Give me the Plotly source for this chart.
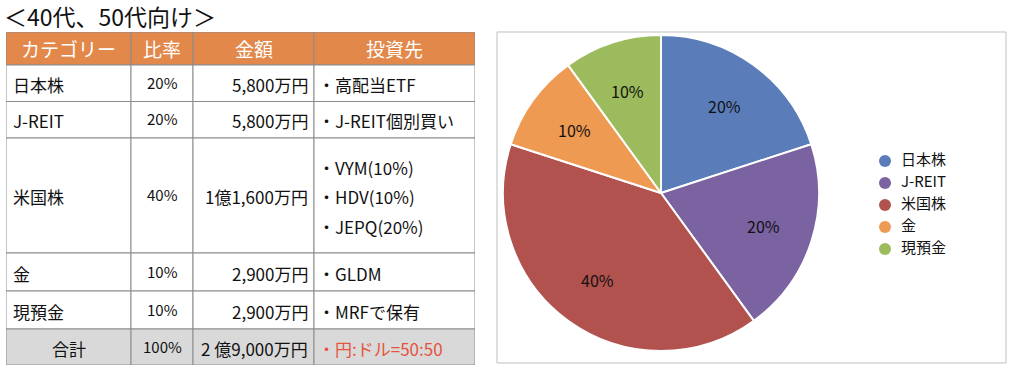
import math
import plotly.graph_objects as go

# ---------------- data ----------------
title_text = "＜40代、50代向け＞"
headers = ["カテゴリー", "比率", "金額", "投資先"]
categories = ["日本株", "J-REIT", "米国株", "金", "現預金"]
ratios = ["20%", "20%", "40%", "10%", "10%"]
amounts = ["5,800万円", "5,800万円", "1億1,600万円", "2,900万円", "2,900万円"]
investments = [["・高配当ETF"], ["・J-REIT個別買い"],
               ["・VYM(10%)", "・HDV(10%)", "・JEPQ(20%)"],
               ["・GLDM"], ["・MRFで保有"]]
total_label = "合計"
total_ratio = "100%"
total_amount = "2 億9,000万円"
total_note = "・円:ドル=50:50"
pie_values = [20, 20, 40, 10, 10]
pie_colors = ["#5A7DBA", "#7B62A0", "#B1524E", "#EE9A53", "#9BBB5C"]

# ---------------- layout / style ----------------
W, H = 1024, 372
FONT = "Noto Sans CJK JP"
COL_W = [125, 62, 121, 161]
ROW_H = [33, 36.5, 36.5, 115, 38, 38, 36]
LINE_GAP = 29.5
TABLE_X0, TABLE_X1 = 6, 475
TABLE_Y0, TABLE_Y1 = 32, 365
GRID = "#8C8C8C"
HEADER_FILL = "#E2884A"
TOTAL_FILL = "#D9D9D9"
RED = "#E5533C"
PIE_CX, PIE_CY, PIE_R = 661, 193, 158
LABEL_R = 0.68
LEG_X0, LEG_X1 = 870, 1000
LEG_MARK_X, LEG_TEXT_X = 885, 901
LEG_TOP, LEG_BOT = 161, 249

col_x = [0]
for w in COL_W:
    col_x.append(col_x[-1] + w)
row_y = [0]
for h in ROW_H:
    row_y.append(row_y[-1] + h)

fig = go.Figure()

# pie
fig.add_trace(go.Pie(
    labels=categories, values=pie_values, sort=False, direction="clockwise",
    marker=dict(colors=pie_colors, line=dict(color="white", width=2)),
    textinfo="none",
    domain=dict(x=[(PIE_CX - PIE_R) / W, (PIE_CX + PIE_R) / W],
                y=[(H - PIE_CY - PIE_R) / H, (H - PIE_CY + PIE_R) / H]),
    showlegend=False, hoverinfo="label+percent",
))

shapes = []
annotations = []

# pie percentage labels at slice mid-angles (derived from the values)
total_v = sum(pie_values)
cum = 0
for v in pie_values:
    mid = (cum + v / 2) / total_v * 2 * math.pi
    cum += v
    px = PIE_CX + LABEL_R * PIE_R * math.sin(mid)
    py = PIE_CY - LABEL_R * PIE_R * math.cos(mid)
    annotations.append(dict(xref="paper", yref="paper", x=px / W, y=1 - py / H,
                            text=f"{round(v / total_v * 100)}%", showarrow=False,
                            xanchor="center", yanchor="middle",
                            font=dict(family=FONT, size=16, color="#111111")))

# legend drawn as a categorical scatter
lw = LEG_X1 - LEG_X0
fig.add_trace(go.Scatter(x=[(LEG_MARK_X - LEG_X0) / lw] * len(categories), y=categories,
                         mode="markers", cliponaxis=False,
                         marker=dict(symbol="circle", size=12, color=pie_colors),
                         xaxis="x2", yaxis="y2", showlegend=False, hoverinfo="skip"))
fig.add_trace(go.Scatter(x=[(LEG_TEXT_X - LEG_X0) / lw] * len(categories), y=categories,
                         mode="text", cliponaxis=False,
                         text=categories, textposition="middle right",
                         textfont=dict(family=FONT, size=15, color="#111111"),
                         xaxis="x2", yaxis="y2", showlegend=False, hoverinfo="skip"))


def cell_rect(c, r, fill):
    shapes.append(dict(type="rect", xref="x", yref="y",
                       x0=col_x[c], x1=col_x[c + 1], y0=row_y[r], y1=row_y[r + 1],
                       fillcolor=fill, line=dict(color=GRID, width=1), layer="below"))


def cell_text(c, r, text, align, size=17, color="#111111", dy=1, pad=5):
    if align == "left":
        x, xa = col_x[c] + pad, "left"
    elif align == "right":
        x, xa = col_x[c + 1] - 4, "right"
    else:
        x, xa = (col_x[c] + col_x[c + 1]) / 2, "center"
    y = (row_y[r] + row_y[r + 1]) / 2 + dy
    annotations.append(dict(xref="x", yref="y", x=x, y=y, text=text, showarrow=False,
                            xanchor=xa, yanchor="middle",
                            font=dict(family=FONT, size=size, color=color)))


# header
for c, h in enumerate(headers):
    cell_rect(c, 0, HEADER_FILL)
    cell_text(c, 0, h, "center", size=19, color="white", dy=0)

# body
for i in range(len(categories)):
    r = i + 1
    for c in range(4):
        cell_rect(c, r, "white")
    cell_text(0, r, categories[i], "left")
    cell_text(1, r, ratios[i], "center", size=15, dy=-1)
    cell_text(2, r, amounts[i], "right")
    lines = investments[i]
    n = len(lines)
    for k, t in enumerate(lines):
        cell_text(3, r, t, "left", dy=1 + (k - (n - 1) / 2) * LINE_GAP, pad=2)

# total row
r = len(categories) + 1
for c in range(4):
    cell_rect(c, r, TOTAL_FILL)
cell_text(0, r, total_label, "center")
cell_text(1, r, total_ratio, "center", size=15, dy=-1)
cell_text(2, r, total_amount, "right")
cell_text(3, r, total_note, "left", color=RED, pad=2)

# title
annotations.append(dict(xref="paper", yref="paper", x=2 / W, y=1 - 16 / H,
                        text=title_text, showarrow=False, xanchor="left", yanchor="middle",
                        font=dict(family=FONT, size=23, color="#111111")))

# pie frame
shapes.append(dict(type="rect", xref="paper", yref="paper",
                   x0=497 / W, x1=1006 / W, y0=1 - 363 / H, y1=1 - 32 / H,
                   line=dict(color="#BFBFBF", width=1), fillcolor="rgba(0,0,0,0)",
                   layer="below"))

half = (LEG_BOT - LEG_TOP) / (len(categories) - 1) / 2

fig.update_layout(
    width=W, height=H, margin=dict(l=0, r=0, t=0, b=0),
    paper_bgcolor="white", plot_bgcolor="rgba(0,0,0,0)",
    xaxis=dict(domain=[TABLE_X0 / W, TABLE_X1 / W], range=[0, col_x[-1]],
               visible=False, fixedrange=True),
    yaxis=dict(domain=[1 - TABLE_Y1 / H, 1 - TABLE_Y0 / H], range=[row_y[-1], 0],
               visible=False, fixedrange=True),
    xaxis2=dict(domain=[LEG_X0 / W, LEG_X1 / W], range=[0, 1], visible=False,
                fixedrange=True, anchor="y2"),
    yaxis2=dict(domain=[1 - (LEG_BOT + half) / H, 1 - (LEG_TOP - half) / H],
                type="category", categoryorder="array",
                categoryarray=categories[::-1], range=[-0.5, len(categories) - 0.5],
                visible=False, fixedrange=True, anchor="x2"),
    shapes=shapes, annotations=annotations,
    showlegend=False,
)

fig.write_html("out.html", config={"displayModeBar": False},
               post_script="document.body.style.margin='0';")
